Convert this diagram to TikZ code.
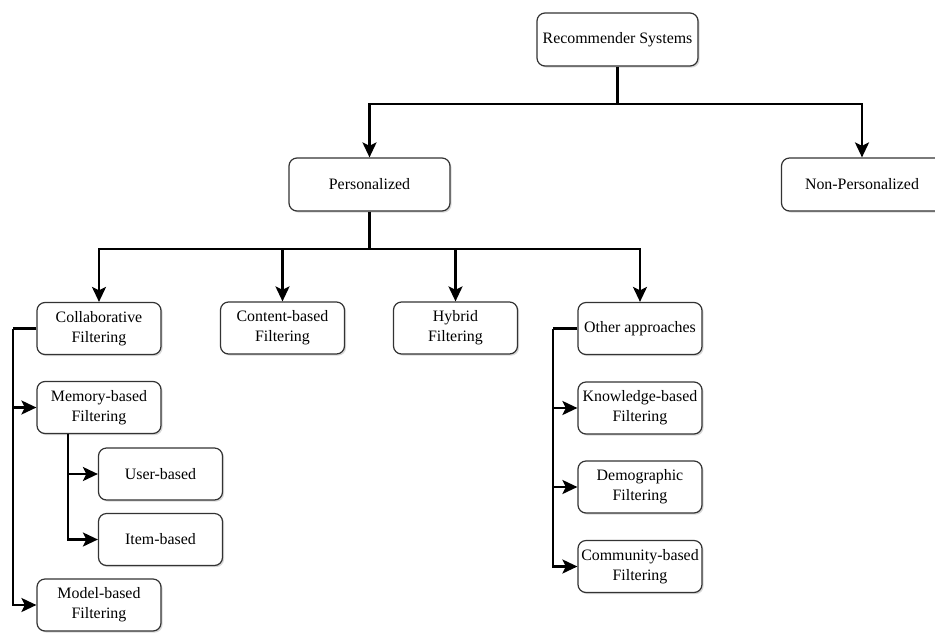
\documentclass[tikz,border=0pt]{standalone}
\usepackage{fontspec}
\setmainfont{Liberation Serif}
\usetikzlibrary{arrows.meta,shadows}

\begin{document}
\begin{tikzpicture}
  [x=1pt,y=-1pt,font=\fontsize{15.9}{20}\selectfont,
   box/.style={draw=black!80,line width=1.2pt,rounded corners=8pt,fill=white,
     align=center,inner sep=1pt,minimum width=124pt,minimum height=52pt,
     drop shadow={shadow xshift=1.6pt,shadow yshift=-1.6pt,fill=black!30}},
   wide/.style={box,minimum width=161pt,minimum height=53pt},
   link/.style={line width=2.6pt},
   arr/.style={link,-{Stealth[length=15pt,width=14pt,inset=3.5pt]}}]
  \useasboundingbox (0,0) rectangle (935,633);
  \clip (0,0) rectangle (935,633);

  \node[wide] (rs) at (617.5,39.5) {Recommender Systems};
  \node[wide] (pers) at (369.5,184.5) {Personalized};
  \node[wide] (nonpers) at (862,184.5) {Non-Personalized};

  \node[box] (collab) at (99,328.5) {Collaborative\\Filtering};
  \node[box] (content) at (282.5,328) {Content-based\\Filtering};
  \node[box] (hybrid) at (455.5,328) {Hybrid\\Filtering};
  \node[box] (other) at (640,328.5) {Other approaches};

  \node[box] (memory) at (99,407.5) {Memory-based\\Filtering};
  \node[box] (user) at (160.5,474) {User-based};
  \node[box] (item) at (160.5,539.5) {Item-based};
  \node[box] (model) at (99,605) {Model-based\\Filtering};

  \node[box] (know) at (640,408) {Knowledge-based\\Filtering};
  \node[box] (demo) at (640,487) {Demographic\\Filtering};
  \node[box] (comm) at (640,566.5) {Community-based\\Filtering};

  % bus points
  \coordinate (top) at (617.5,104);
  \coordinate (mid) at (369.5,249);
  \coordinate (cf) at (13,328.5);
  \coordinate (mb) at (68,434);
  \coordinate (oa) at (553,328.5);

  \draw[link] (rs) -- (top);
  \foreach \to in {pers,nonpers}
    \draw[arr] (top) -| (\to);
  \draw[link] (pers) -- (mid);
  \foreach \to in {collab,content,hybrid,other}
    \draw[arr] (mid) -| (\to);
  \draw[link] (collab.west) -- (cf);
  \draw[link] (other.west) -- (oa);
  \foreach \from/\to in {cf/memory,cf/model,mb/user,mb/item,oa/know,oa/demo,oa/comm}
    \draw[arr] (\from) |- (\to);
\end{tikzpicture}
\end{document}
